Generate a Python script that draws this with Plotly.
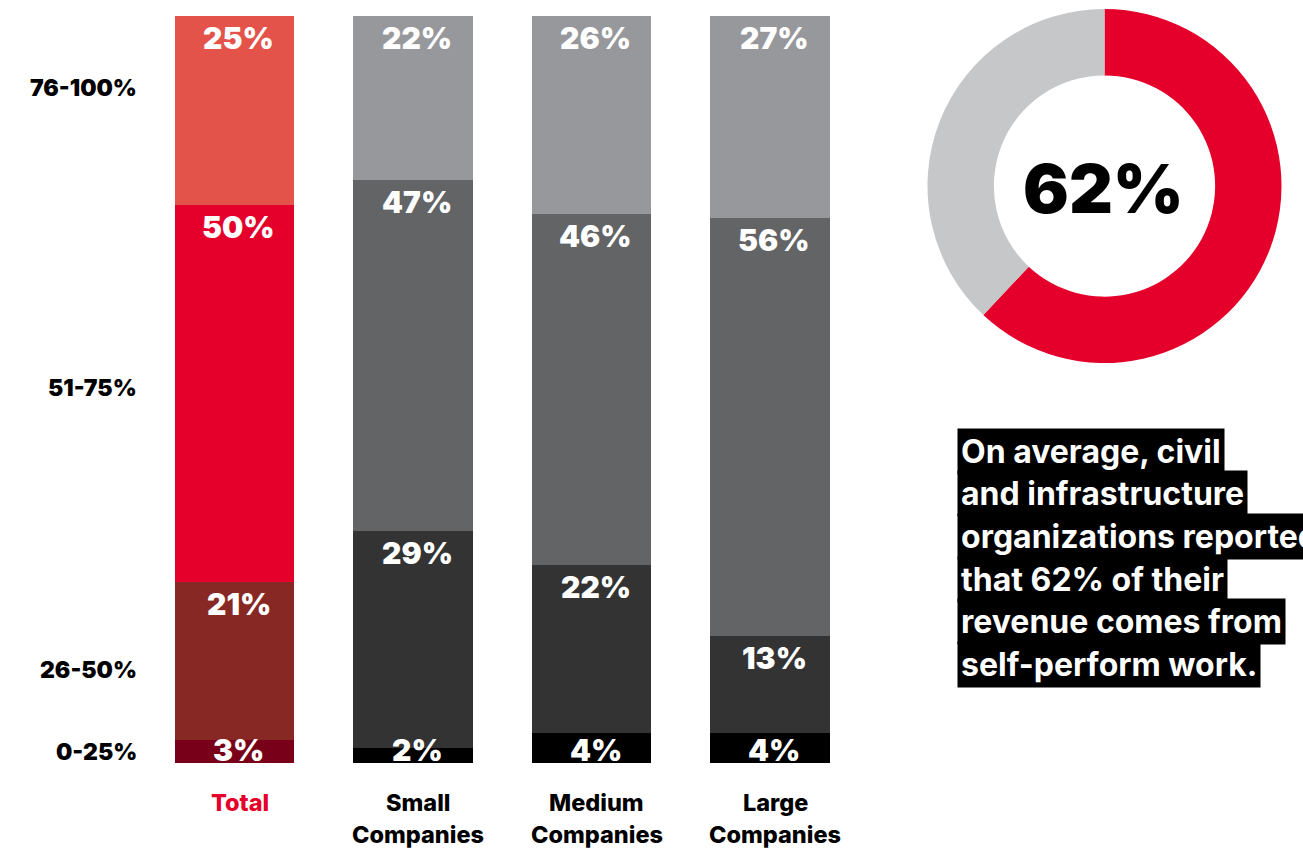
import plotly.graph_objects as go

# ---- data ----
categories = ["Total", "Small Companies", "Medium Companies", "Large Companies"]
band_names = ["0-25%", "26-50%", "51-75%", "76-100%"]
band_0_25 = [3, 2, 4, 4]
band_26_50 = [21, 29, 22, 13]
band_51_75 = [50, 47, 46, 56]
band_76_100 = [25, 22, 26, 27]
bands = [band_0_25, band_26_50, band_51_75, band_76_100]

x_label_line1 = ["Total", "Small", "Medium", "Large"]
x_label_line2 = ["", "Companies", "Companies", "Companies"]

donut_labels = ["Self-perform", "Other"]
donut_values = [62, 38]
donut_center_text = "62%"

note_lines = [
    "On average, civil",
    "and infrastructure",
    "organizations reported",
    "that 62% of their",
    "revenue comes from",
    "self-perform work.",
]

# ---- styling ----
W, H = 1303, 848
FONT = "Inter"
RED = "#E4002B"
total_colors = ["#780018", "#872824", "#E4002B", "#E3534A"]
other_colors = ["#000000", "#333333", "#636466", "#97989C"]


def py(px):
    """pixel row -> paper y"""
    return 1 - px / H


def pxx(px):
    return px / W


fig = go.Figure()

for i, (name, vals) in enumerate(zip(band_names, bands)):
    colors = [total_colors[i]] + [other_colors[i]] * (len(categories) - 1)
    fig.add_trace(go.Bar(
        x=categories, y=vals, name=name,
        marker=dict(color=colors, line=dict(width=0)),
        hoverinfo="skip", showlegend=False,
    ))

fig.add_trace(go.Pie(
    labels=donut_labels, values=donut_values,
    hole=0.625, sort=False, direction="clockwise", rotation=0,
    marker=dict(colors=[RED, "#C6C7C9"], line=dict(width=0)),
    textinfo="none", hoverinfo="skip", showlegend=False,
    domain=dict(x=[pxx(927), pxx(1282)], y=[py(363), py(9)]),
))

annotations = []

# value labels inside the stacked segments
for ci, cat in enumerate(categories):
    total = sum(b[ci] for b in bands)
    cum = 0
    for bi, b in enumerate(bands):
        v = b[ci]
        cum += v
        if bi == 0:
            annotations.append(dict(
                x=cat, xref="x", y=0, yref="y", yanchor="bottom",
                text=f"{v}%", showarrow=False, yshift=-7, xshift=4,
                font=dict(family=FONT, size=30, color="white", weight=900),
            ))
        else:
            top = cum / total * 100
            annotations.append(dict(
                x=cat, xref="x", y=top, yref="y", yanchor="top",
                text=f"{v}%", showarrow=False, yshift=-2, xshift=4,
                font=dict(family=FONT, size=30, color="white", weight=900),
            ))

# band labels on the left
band_label_rows = [752, 670, 388, 88]
for name, row in zip(band_names, band_label_rows):
    annotations.append(dict(
        x=pxx(139), xref="paper", xanchor="right",
        y=py(row), yref="paper", yanchor="middle",
        text=name, showarrow=False,
        font=dict(family=FONT, size=23, color="black", weight=900),
    ))

# category labels under the bars
for ci, cat in enumerate(categories):
    col = RED if ci == 0 else "black"
    annotations.append(dict(
        x=cat, xref="x", y=py(802), yref="paper", yanchor="middle",
        text=x_label_line1[ci], showarrow=False, xshift=5,
        font=dict(family=FONT, size=23.5, color=col, weight=800),
    ))
    if x_label_line2[ci]:
        annotations.append(dict(
            x=cat, xref="x", y=py(834), yref="paper", yanchor="middle",
            text=x_label_line2[ci], showarrow=False, xshift=5,
            font=dict(family=FONT, size=23.5, color=col, weight=800),
        ))

# donut centre figure
annotations.append(dict(
    x=pxx(1103), xref="paper", xanchor="center",
    y=py(188), yref="paper", yanchor="middle",
    text=donut_center_text, showarrow=False,
    font=dict(family=FONT, size=68, color="black", weight=900),
))

# highlighted note, one black strip per line
for k, line in enumerate(note_lines):
    annotations.append(dict(
        x=pxx(957), xref="paper", xanchor="left",
        y=py(451 + k * 42.7), yref="paper", yanchor="middle",
        text=line, showarrow=False, bgcolor="black", borderpad=3,
        font=dict(family=FONT, size=32, color="white", weight=700),
    ))

fig.update_layout(
    width=W, height=H,
    margin=dict(l=0, r=0, t=0, b=0),
    paper_bgcolor="white", plot_bgcolor="white",
    barmode="stack", barnorm="percent", bargap=0.328,
    xaxis=dict(domain=[pxx(145.25), pxx(859.25)], range=[-0.5, 3.5],
               showticklabels=False, showgrid=False, zeroline=False,
               showline=False, fixedrange=True),
    yaxis=dict(domain=[py(763), py(16)], range=[0, 100],
               showticklabels=False, showgrid=False, zeroline=False,
               showline=False, fixedrange=True),
    annotations=annotations,
)

fig.write_html("out.html")
